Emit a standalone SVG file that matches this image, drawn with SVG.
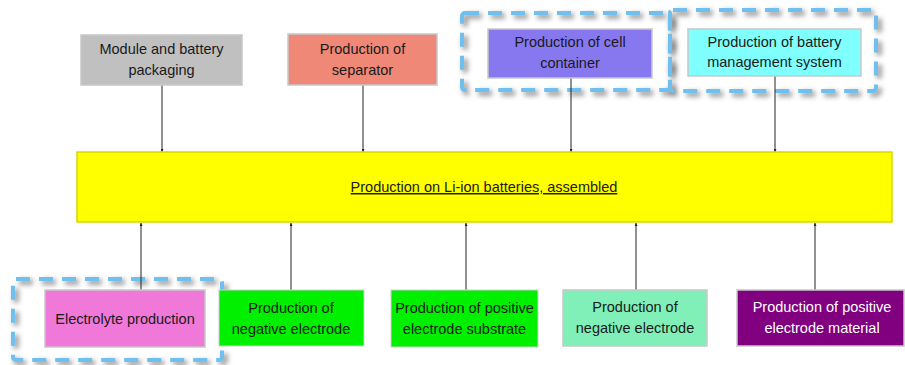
<svg xmlns="http://www.w3.org/2000/svg" width="905" height="365" viewBox="0 0 905 365">
<defs>
<style>
.box{stroke:#c8c8c8;stroke-width:1.5}
.t{font-family:"Liberation Sans",Arial,sans-serif;font-size:14.5px;fill:#1a1a1a;text-anchor:middle}
.w{fill:#ffffff}
.ln{stroke:#222;stroke-width:1;fill:none}
.dash{fill:none;stroke:#6fc0ee;stroke-width:4;stroke-dasharray:14 9}
.sh{fill:none;stroke:#666;stroke-width:6;stroke-dasharray:14 9;opacity:0.6}
</style>
<filter id="blur" x="-10%" y="-10%" width="120%" height="120%"><feGaussianBlur stdDeviation="2.5"/></filter>
<marker id="ar" viewBox="0 0 6 6" refX="6" refY="3" markerWidth="3" markerHeight="3" orient="auto"><path d="M0,0L6,3L0,6z" fill="#222"/></marker>
</defs>
<rect width="905" height="365" fill="#fff"/>
<g id="groups">
<rect class="sh" x="465" y="16" width="208" height="77" rx="3" filter="url(#blur)"/>
<rect class="sh" x="673" y="13" width="206" height="81" rx="3" filter="url(#blur)"/>
<rect class="sh" x="16" y="282" width="209" height="81" rx="3" filter="url(#blur)"/>
<rect class="dash" x="462" y="13" width="208" height="77" rx="3"/>
<rect class="dash" x="670" y="10" width="206" height="81" rx="3"/>
<rect class="dash" x="13" y="279" width="209" height="81" rx="3"/>
</g>
<g id="connectors">
<line class="ln" x1="162" y1="85" x2="162" y2="152" marker-end="url(#ar)"/>
<line class="ln" x1="363" y1="85" x2="363" y2="152" marker-end="url(#ar)"/>
<line class="ln" x1="571" y1="78" x2="571" y2="152" marker-end="url(#ar)"/>
<line class="ln" x1="775" y1="76" x2="775" y2="152" marker-end="url(#ar)"/>
<line class="ln" x1="141" y1="290" x2="141" y2="223" marker-end="url(#ar)"/>
<line class="ln" x1="291" y1="290" x2="291" y2="223" marker-end="url(#ar)"/>
<line class="ln" x1="466" y1="290" x2="466" y2="223" marker-end="url(#ar)"/>
<line class="ln" x1="636" y1="290" x2="636" y2="223" marker-end="url(#ar)"/>
<line class="ln" x1="815" y1="290" x2="815" y2="223" marker-end="url(#ar)"/>
</g>
<g id="n-module"><rect class="box" x="81" y="35" width="161" height="50" fill="#c0c0c0"/><text class="t" x="161.5" y="54">Module and battery</text><text class="t" x="161.5" y="75">packaging</text></g>
<g id="n-separator"><rect class="box" x="288" y="34" width="149" height="51" fill="#f08878"/><text class="t" x="362.5" y="54">Production of</text><text class="t" x="362.5" y="75">separator</text></g>
<g id="n-container"><rect class="box" x="488" y="29" width="164" height="49" fill="#8878f0"/><text class="t" x="570" y="47">Production of cell</text><text class="t" x="570" y="68">container</text></g>
<g id="n-bms"><rect class="box" x="688" y="29" width="173" height="47" fill="#80ffff"/><text class="t" x="774.5" y="47">Production of battery</text><text class="t" x="774.5" y="67">management system</text></g>
<g id="n-main"><rect x="77" y="152" width="815" height="70" fill="#ffff00" stroke="#d8d800" stroke-width="1.5"/><text class="t" x="484" y="192" text-decoration="underline">Production on Li-ion batteries, assembled</text></g>
<g id="n-electrolyte"><rect class="box" x="45" y="290" width="160" height="57" fill="#f078d8"/><text class="t" x="125" y="324">Electrolyte production</text></g>
<g id="n-neg1"><rect x="219" y="290" width="145" height="56" fill="#00f000" stroke="#d0d0d0" stroke-width="1"/><text class="t" x="291" y="313">Production of</text><text class="t" x="291" y="334">negative electrode</text></g>
<g id="n-possub"><rect x="391" y="290" width="147" height="57" fill="#00f000" stroke="#d0d0d0" stroke-width="1"/><text class="t" x="464.5" y="313">Production of positive</text><text class="t" x="464.5" y="334">electrode substrate</text></g>
<g id="n-neg2"><rect class="box" x="563" y="290" width="144" height="56" fill="#80f0b8"/><text class="t" x="635" y="312">Production of</text><text class="t" x="635" y="333">negative electrode</text></g>
<g id="n-posmat"><rect class="box" x="737" y="290" width="167" height="56" fill="#800080"/><text class="t w" x="822" y="312">Production of positive</text><text class="t w" x="822" y="333">electrode material</text></g>
</svg>
